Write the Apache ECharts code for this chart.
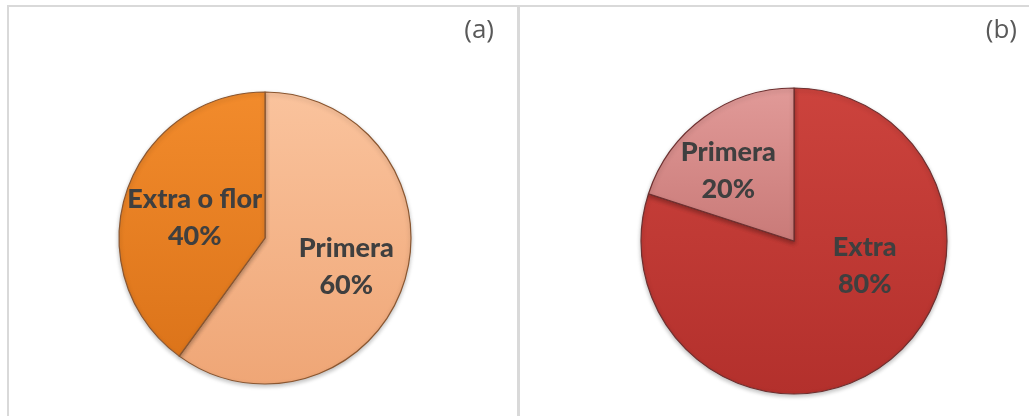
<!DOCTYPE html>
<html>
<head>
<meta charset="utf-8">
<script src="https://cdn.jsdelivr.net/npm/echarts@6/dist/echarts.min.js"></script>
<style>
html,body{margin:0;padding:0;background:#fff;}
#chart{width:1029px;height:416px;}
</style>
</head>
<body>
<div id="chart"></div>
<script>
// Data
var panelTitles = ['(a)', '(b)'];
var categoriesA = ['Primera', 'Extra o flor'];
var valuesA = [60, 40];
var categoriesB = ['Extra', 'Primera'];
var valuesB = [80, 20];

function grad(top, bottom) {
  return new echarts.graphic.LinearGradient(0, 0, 0, 1, [
    {offset: 0, color: top}, {offset: 1, color: bottom}
  ]);
}

var colorsA = [grad('#fac39d', '#efa676'), grad('#f28b2c', '#dc741a')];
var colorsB = [grad('#cc433d', '#b3302c'), grad('#e19a98', '#c97a78')];
var offsetsA = [[9, 5], [2, 3]];
var offsetsB = [[24, -40], [-19, -6]];

function buildData(cats, vals, colors, offsets, border) {
  return cats.map(function (c, i) {
    return {
      name: c, value: vals[i],
      itemStyle: {color: colors[i], borderColor: border, borderWidth: 1.2},
      label: {offset: offsets[i]}
    };
  });
}

var labelStyle = {
  show: true, position: 'inside',
  formatter: '{b}\n{d}%',
  fontFamily: 'Lato', fontWeight: 900, fontSize: 27,
  lineHeight: 37, color: '#3f3f3f'
};

var titleStyle = {fontFamily: 'Open Sans', fontWeight: 'normal', fontSize: 26, color: '#595959'};

var chart = echarts.init(document.getElementById('chart'), null, {renderer: 'canvas'});
chart.setOption({
  animation: false,
  title: [
    {text: panelTitles[0], right: 1029 - 499, top: 13, textStyle: titleStyle},
    {text: panelTitles[1], right: 7, top: 13, textStyle: titleStyle}
  ],
  graphic: [
    {type: 'rect', shape: {x: 7, y: 5, width: 1022, height: 2}, style: {fill: '#d9d9d9'}, silent: true},
    {type: 'rect', shape: {x: 7, y: 5, width: 2, height: 411}, style: {fill: '#d9d9d9'}, silent: true},
    {type: 'rect', shape: {x: 517, y: 5, width: 3, height: 411}, style: {fill: '#d9d9d9'}, silent: true}
  ],
  series: [
    {
      type: 'pie', center: [265, 238], radius: 146, startAngle: 90, clockwise: true,
      label: labelStyle, labelLine: {show: false},
      itemStyle: {shadowBlur: 4, shadowColor: 'rgba(0,0,0,0.25)', shadowOffsetY: 2},
      emphasis: {disabled: true},
      data: buildData(categoriesA, valuesA, colorsA, offsetsA, '#8a5630')
    },
    {
      type: 'pie', center: [794, 241], radius: 153, startAngle: 90, clockwise: true,
      label: labelStyle, labelLine: {show: false},
      itemStyle: {shadowBlur: 4, shadowColor: 'rgba(0,0,0,0.25)', shadowOffsetY: 2},
      emphasis: {disabled: true},
      data: buildData(categoriesB, valuesB, colorsB, offsetsB, '#6e3030')
    }
  ]
});
</script>
</body>
</html>
